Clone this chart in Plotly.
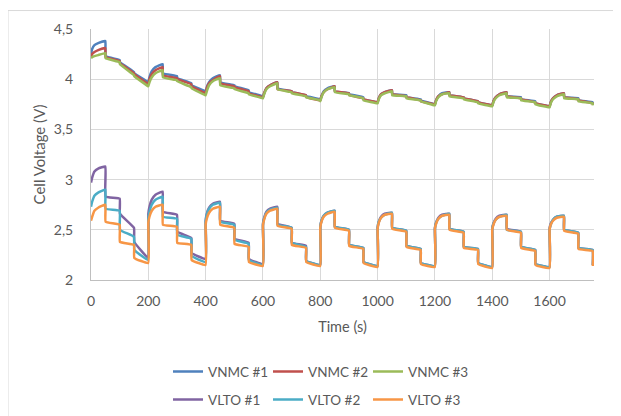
import plotly.graph_objects as go

# ---- data -------------------------------------------------------------
CYCLE_STARTS = [0, 200, 400, 600, 800, 1000, 1200, 1400, 1600]
OFFSETS = [0, 4, 12, 25, 50, 51, 100, 101, 150, 151, 199.5]

VNMC_1 = [
    [4.25, 4.30, 4.34, 4.36, 4.38, 4.23, 4.19, 4.17, 4.07, 4.06, 3.97],
    [3.97, 4.02, 4.08, 4.12, 4.15, 4.06, 4.03, 4.01, 3.96, 3.94, 3.88],
    [3.87, 3.92, 3.97, 4.01, 4.04, 3.97, 3.94, 3.93, 3.89, 3.87, 3.83],
    [3.82, 3.86, 3.91, 3.94, 3.97, 3.91, 3.88, 3.87, 3.84, 3.83, 3.80],
    [3.79, 3.83, 3.88, 3.91, 3.93, 3.88, 3.86, 3.85, 3.82, 3.80, 3.77],
    [3.77, 3.81, 3.85, 3.87, 3.89, 3.85, 3.84, 3.82, 3.80, 3.79, 3.75],
    [3.75, 3.79, 3.83, 3.86, 3.87, 3.84, 3.82, 3.81, 3.78, 3.77, 3.74],
    [3.74, 3.78, 3.82, 3.85, 3.87, 3.83, 3.82, 3.80, 3.78, 3.76, 3.73],
    [3.73, 3.77, 3.81, 3.84, 3.86, 3.82, 3.81, 3.79, 3.77, 3.75],
]
VNMC_2 = [
    [4.22, 4.25, 4.27, 4.29, 4.31, 4.22, 4.18, 4.16, 4.06, 4.05, 3.95],
    [3.95, 4.00, 4.05, 4.09, 4.12, 4.04, 4.01, 4.00, 3.95, 3.93, 3.86],
    [3.86, 3.91, 3.96, 3.99, 4.03, 3.96, 3.93, 3.92, 3.88, 3.86, 3.82],
    [3.82, 3.86, 3.91, 3.94, 3.97, 3.90, 3.88, 3.87, 3.84, 3.82, 3.79],
    [3.79, 3.83, 3.87, 3.90, 3.93, 3.88, 3.86, 3.84, 3.81, 3.80, 3.77],
    [3.77, 3.81, 3.85, 3.87, 3.89, 3.85, 3.83, 3.82, 3.79, 3.78, 3.75],
    [3.75, 3.79, 3.83, 3.85, 3.87, 3.84, 3.82, 3.81, 3.78, 3.77, 3.74],
    [3.74, 3.78, 3.82, 3.85, 3.87, 3.83, 3.81, 3.80, 3.77, 3.76, 3.73],
    [3.73, 3.77, 3.81, 3.84, 3.86, 3.82, 3.80, 3.79, 3.76, 3.75],
]
VNMC_3 = [
    [4.21, 4.22, 4.23, 4.24, 4.26, 4.21, 4.17, 4.15, 4.04, 4.03, 3.93],
    [3.93, 3.97, 4.02, 4.06, 4.09, 4.02, 3.99, 3.98, 3.92, 3.91, 3.84],
    [3.84, 3.88, 3.94, 3.98, 4.01, 3.94, 3.91, 3.90, 3.86, 3.85, 3.81],
    [3.81, 3.85, 3.90, 3.93, 3.96, 3.90, 3.87, 3.86, 3.83, 3.82, 3.79],
    [3.78, 3.82, 3.87, 3.90, 3.92, 3.87, 3.85, 3.84, 3.81, 3.79, 3.76],
    [3.76, 3.80, 3.84, 3.86, 3.88, 3.84, 3.83, 3.81, 3.79, 3.78, 3.74],
    [3.74, 3.78, 3.82, 3.85, 3.86, 3.83, 3.81, 3.80, 3.77, 3.76, 3.73],
    [3.73, 3.77, 3.81, 3.84, 3.86, 3.82, 3.81, 3.79, 3.77, 3.75, 3.72],
    [3.72, 3.76, 3.80, 3.83, 3.85, 3.81, 3.80, 3.78, 3.76, 3.74],
]
VLTO_1 = [
    [2.97, 3.02, 3.08, 3.11, 3.13, 2.83, 2.81, 2.66, 2.52, 2.38, 2.22],
    [2.66, 2.73, 2.80, 2.85, 2.88, 2.68, 2.65, 2.48, 2.42, 2.27, 2.21],
    [2.59, 2.66, 2.72, 2.76, 2.78, 2.59, 2.56, 2.41, 2.37, 2.21, 2.16],
    [2.56, 2.62, 2.68, 2.71, 2.73, 2.56, 2.52, 2.37, 2.34, 2.19, 2.15],
    [2.53, 2.59, 2.64, 2.67, 2.69, 2.53, 2.50, 2.35, 2.32, 2.18, 2.14],
    [2.52, 2.58, 2.63, 2.66, 2.67, 2.52, 2.49, 2.34, 2.31, 2.17, 2.14],
    [2.52, 2.57, 2.62, 2.65, 2.66, 2.51, 2.48, 2.33, 2.31, 2.17, 2.13],
    [2.51, 2.56, 2.61, 2.64, 2.65, 2.51, 2.48, 2.33, 2.30, 2.16, 2.13],
    [2.51, 2.56, 2.60, 2.63, 2.64, 2.50, 2.47, 2.32, 2.30, 2.15],
]
VLTO_2 = [
    [2.73, 2.78, 2.84, 2.87, 2.90, 2.71, 2.69, 2.50, 2.43, 2.30, 2.20],
    [2.61, 2.68, 2.75, 2.80, 2.83, 2.63, 2.61, 2.45, 2.41, 2.24, 2.18],
    [2.58, 2.65, 2.71, 2.75, 2.77, 2.58, 2.55, 2.40, 2.36, 2.20, 2.15],
    [2.55, 2.61, 2.67, 2.70, 2.72, 2.55, 2.52, 2.37, 2.33, 2.19, 2.15],
    [2.53, 2.59, 2.64, 2.67, 2.69, 2.53, 2.50, 2.35, 2.32, 2.18, 2.14],
    [2.52, 2.58, 2.62, 2.65, 2.67, 2.52, 2.49, 2.34, 2.31, 2.17, 2.14],
    [2.51, 2.57, 2.61, 2.64, 2.66, 2.51, 2.48, 2.33, 2.31, 2.17, 2.13],
    [2.51, 2.56, 2.60, 2.63, 2.65, 2.50, 2.48, 2.33, 2.30, 2.16, 2.13],
    [2.50, 2.55, 2.60, 2.63, 2.64, 2.50, 2.47, 2.32, 2.30, 2.15],
]
VLTO_3 = [
    [2.59, 2.63, 2.69, 2.72, 2.75, 2.58, 2.55, 2.38, 2.35, 2.22, 2.17],
    [2.57, 2.63, 2.69, 2.73, 2.75, 2.55, 2.53, 2.37, 2.35, 2.20, 2.15],
    [2.55, 2.61, 2.67, 2.71, 2.73, 2.55, 2.52, 2.36, 2.33, 2.18, 2.14],
    [2.54, 2.60, 2.66, 2.69, 2.71, 2.54, 2.51, 2.35, 2.32, 2.18, 2.14],
    [2.52, 2.58, 2.63, 2.66, 2.68, 2.52, 2.49, 2.34, 2.31, 2.17, 2.13],
    [2.51, 2.57, 2.62, 2.65, 2.66, 2.51, 2.48, 2.33, 2.30, 2.16, 2.13],
    [2.51, 2.56, 2.61, 2.64, 2.65, 2.50, 2.47, 2.32, 2.30, 2.16, 2.12],
    [2.50, 2.55, 2.60, 2.63, 2.64, 2.50, 2.47, 2.32, 2.29, 2.15, 2.12],
    [2.50, 2.55, 2.59, 2.62, 2.63, 2.49, 2.46, 2.31, 2.29, 2.14],
]

SERIES_NAMES = ["VNMC #1", "VNMC #2", "VNMC #3", "VLTO #1", "VLTO #2", "VLTO #3"]
SERIES_VALUES = [VNMC_1, VNMC_2, VNMC_3, VLTO_1, VLTO_2, VLTO_3]
COLORS = ["#4F81BD", "#C0504D", "#9BBB59", "#8064A2", "#4BACC6", "#F79646"]

X_TICKS = [0, 200, 400, 600, 800, 1000, 1200, 1400, 1600]
Y_TICKS = [2, 2.5, 3, 3.5, 4, 4.5]

# ---- figure -----------------------------------------------------------
FONT = "Lato"
FS = 14
GRAY_TXT = "#595959"
GRID = "#d9d9d9"

# page body has an 8px margin -> figure origin sits at screen (8, 8)
OFF = 8
W, H = 621, 416
L, T = 91 - OFF, 28.5 - OFF
R = W - (594 - OFF)
B = H - (280 - OFF)
pw, ph = W - L - R, H - T - B

def sx(px):  # screen x -> paper x
    return (px - OFF - L) / pw

def sy(py):  # screen y -> paper y
    return (H - B - (py - OFF)) / ph

LEGEND_COLS = [168, 268, 368]
LEGEND_ROWS = [372, 400]

fig = go.Figure()
legend_defs = {}
for i, (name, cycles, col) in enumerate(zip(SERIES_NAMES, SERIES_VALUES, COLORS)):
    t, v = [], []
    for start, vals in zip(CYCLE_STARTS, cycles):
        for off, val in zip(OFFSETS, vals):
            t.append(start + off)
            v.append(val)
    lname = "legend" if i == 0 else f"legend{i + 1}"
    fig.add_trace(go.Scatter(
        x=t, y=v, mode="lines", name=name,
        line=dict(color=col, width=2.5, shape="spline", smoothing=0.3),
        legend=lname,
    ))
    legend_defs[lname] = dict(
        x=sx(LEGEND_COLS[i % 3]), y=sy(LEGEND_ROWS[i // 3]),
        xanchor="left", yanchor="middle", orientation="h",
        font=dict(family=FONT, size=13.5, color=GRAY_TXT),
        bgcolor="rgba(0,0,0,0)", itemwidth=30,
    )

fig.update_layout(
    width=W, height=H,
    margin=dict(l=L, r=R, t=T, b=B, pad=0, autoexpand=False),
    paper_bgcolor="white", plot_bgcolor="white",
    separators=",.",
    font=dict(family=FONT, size=FS, color=GRAY_TXT),
    showlegend=True,
    xaxis=dict(
        range=[0, 1755], tickvals=X_TICKS, automargin=False,
        showgrid=True, gridcolor=GRID, gridwidth=1,
        showline=True, linecolor="#bfbfbf", linewidth=1,
        zeroline=False, ticks="", ticklabelstandoff=8,
        tickfont=dict(family=FONT, size=FS, color=GRAY_TXT),
        title=dict(text="Time (s)", standoff=14,
                   font=dict(family=FONT, size=14.5, color=GRAY_TXT)),
    ),
    yaxis=dict(
        range=[2, 4.5], tickvals=Y_TICKS, automargin=False,
        showgrid=True, gridcolor=GRID, gridwidth=1,
        showline=True, linecolor="#bfbfbf", linewidth=1,
        zeroline=False, ticks="", ticklabelstandoff=14,
        tickfont=dict(family=FONT, size=FS, color=GRAY_TXT),
        title=dict(text="Cell Voltage (V)", standoff=4,
                   font=dict(family=FONT, size=15, color=GRAY_TXT)),
    ),
    shapes=[dict(
        type="rect", xref="paper", yref="paper",
        x0=sx(8), x1=sx(660), y0=sy(460), y1=sy(10),
        line=dict(color=GRID, width=1), fillcolor="rgba(0,0,0,0)", layer="below",
    )],
    **legend_defs,
)

fig.write_html("out.html")
